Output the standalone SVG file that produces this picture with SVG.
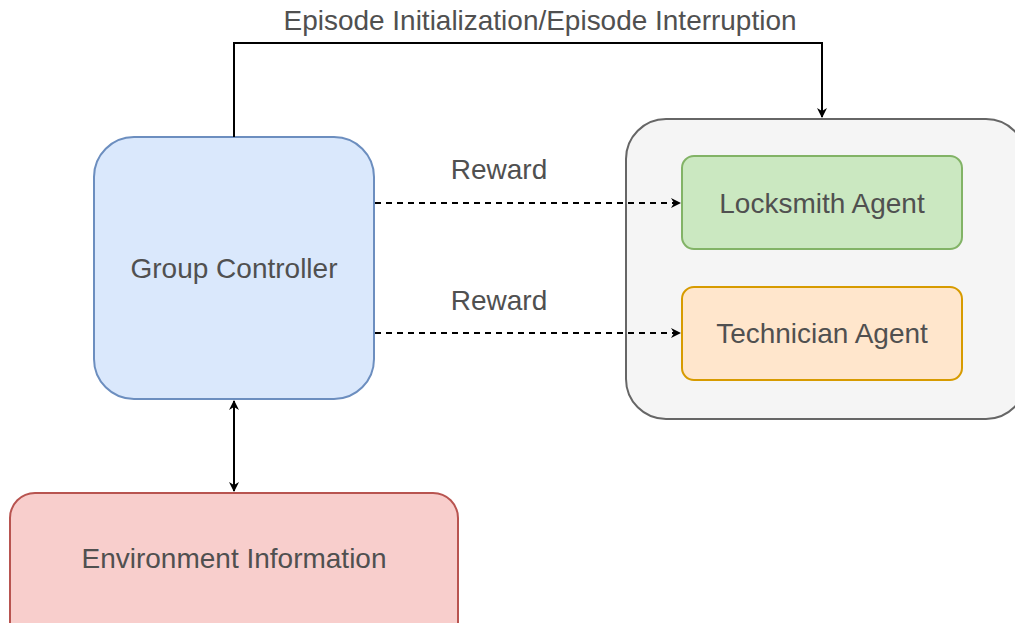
<svg xmlns="http://www.w3.org/2000/svg" width="1015" height="623" viewBox="0 0 1015 623">
<defs>
<marker id="arr" viewBox="0 0 10 10" refX="9" refY="5" markerWidth="10" markerHeight="10" markerUnits="userSpaceOnUse" orient="auto-start-reverse">
<path d="M0,0 L10,5 L0,10 L3,5 Z" fill="#000"/>
</marker>
</defs>
<style>
text{font-family:"Liberation Sans",Arial,sans-serif;font-size:28px;fill:#505050;text-anchor:middle}
.c{fill:none;stroke:#000;stroke-width:2}
.d{stroke-dasharray:6 5}
</style>
<rect width="1015" height="623" fill="#fff"/>
<g id="group-controller">
<rect x="94" y="137" width="280" height="262" rx="40" fill="#dae8fc" stroke="#6c8ebf" stroke-width="2"/>
<text x="234" y="278">Group Controller</text>
</g>
<g id="agents-container">
<rect x="626" y="119" width="400" height="300" rx="40" fill="#f5f5f5" stroke="#666" stroke-width="2"/>
</g>
<g id="locksmith-agent">
<rect x="682" y="156" width="280" height="93" rx="12" fill="#cbe8c1" stroke="#82b366" stroke-width="2"/>
<text x="822" y="213">Locksmith Agent</text>
</g>
<g id="technician-agent">
<rect x="682" y="287" width="280" height="93" rx="12" fill="#ffe6cc" stroke="#d79b00" stroke-width="2"/>
<text x="822" y="343">Technician Agent</text>
</g>
<g id="environment-information">
<rect x="10" y="493" width="448" height="160" rx="25" fill="#f8cecc" stroke="#b85450" stroke-width="2"/>
<text x="234" y="568">Environment Information</text>
</g>
<g id="connectors">
<path class="c" d="M234,137 V43 H822 V117" marker-end="url(#arr)"/>
<path class="c d" d="M375,203 H680" marker-end="url(#arr)"/>
<path class="c d" d="M375,333 H680" marker-end="url(#arr)"/>
<path class="c" d="M234,401 V491" marker-start="url(#arr)" marker-end="url(#arr)"/>
<text x="540" y="30" textLength="513" lengthAdjust="spacingAndGlyphs">Episode Initialization/Episode Interruption</text>
<text x="499" y="179">Reward</text>
<text x="499" y="310">Reward</text>
</g>
</svg>
